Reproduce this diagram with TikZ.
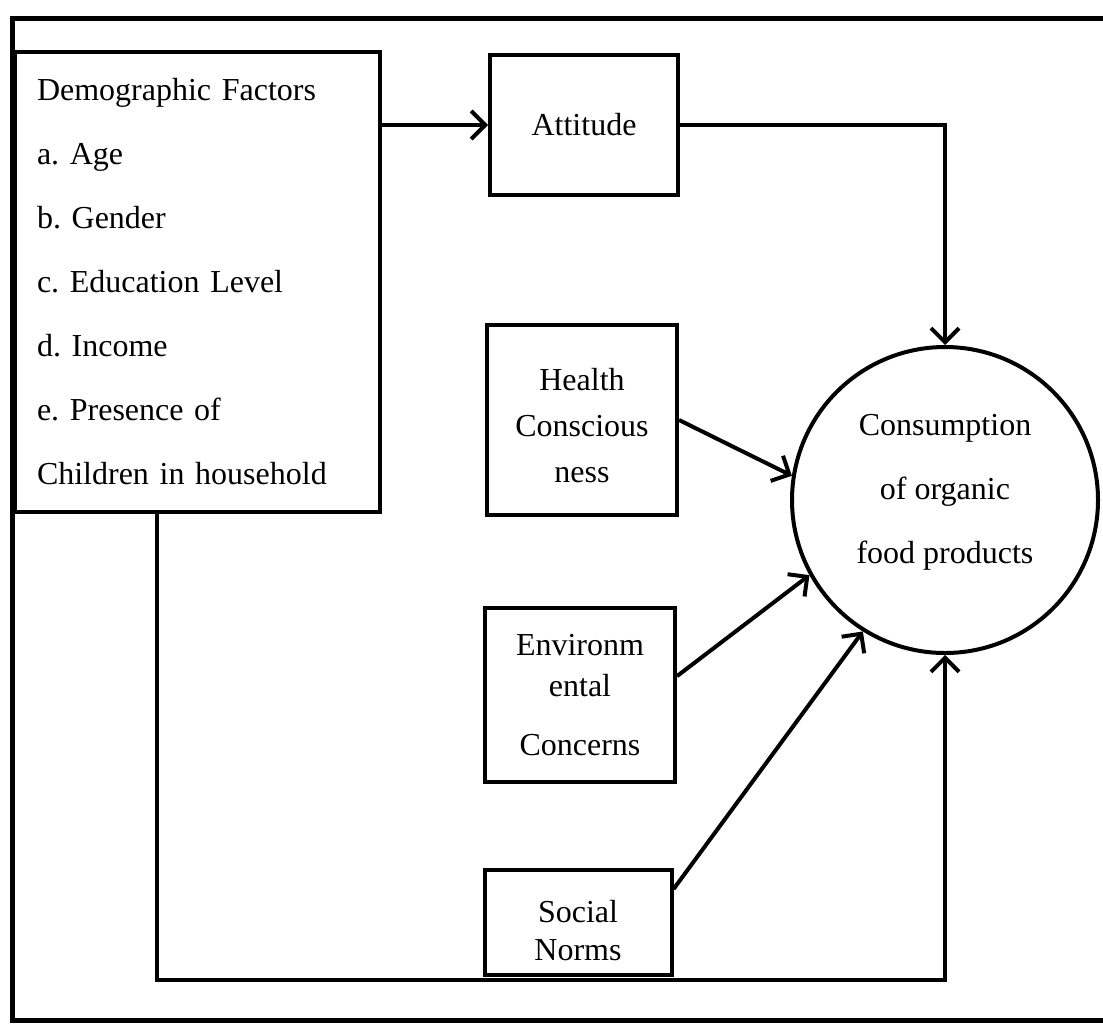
\documentclass[tikz,border=0pt]{standalone}
\usepackage{fontspec}
\setmainfont{Liberation Serif}
\usetikzlibrary{arrows.meta}

\tikzset{
  box/.style={draw, line width=4pt, rectangle, inner sep=0pt, align=center,
    font=\fontsize{32}{46}\selectfont},
  hub/.style={draw, line width=4pt, circle, inner sep=0pt, align=center,
    minimum size=306pt, font=\fontsize{32}{64}\selectfont},
  arr/.style={line width=4pt, -{Straight Barb[length=14pt,width=28pt,line width=4pt]}},
  frame/.style={line width=5pt}
}

\begin{document}
\frenchspacing
\begin{tikzpicture}[x=1pt,y=-1pt]
\useasboundingbox (0,0) rectangle (1103,1026);

% outer frame, right side runs off the page
\draw[frame] (1120,18) -- (12,18) -- (12,1020) -- (1120,1020);

% demographic factors list
\node[box, minimum width=365pt, minimum height=460pt, text width=321pt,
      align=left, font=\fontsize{32}{64}\selectfont] (demo) at (197.5,282)
  {Demographic Factors\\
   a. Age\\
   b. Gender\\
   c. Education Level\\
   d. Income\\
   e. Presence of\\
   Children in household};

% predictor boxes
\node[box, minimum width=188pt, minimum height=140pt] (att) at (584,125)
  {Attitude};
\node[box, minimum width=190pt, minimum height=190pt] (health) at (582,420)
  {\rule{0pt}{34pt}Health\\Conscious\\ness};
\node[box, minimum width=190pt, minimum height=174pt,
      font=\fontsize{32}{41}\selectfont] (env) at (580,695)
  {Environm\\ental\\[18pt]Concerns};
\node[box, minimum width=187pt, minimum height=105pt,
      font=\fontsize{32}{38}\selectfont] (social) at (578,922)
  {\rule{0pt}{40pt}Social\\Norms};

% outcome
\node[hub] (cons) at (945,500)
  {Consumption\\of organic\\food products\rule[-23pt]{0pt}{1pt}};

% connectors
\coordinate (bl) at (157,980);
\draw[arr] (att.west -| demo.east) -- (att.west);
\draw[arr] (att.east) -| (cons.north);
\draw[arr] (health.east) -- (cons.171);
\draw[arr] (env.11) -- (cons.209);
\draw[arr] (social.19) -- (cons.238);
\draw[arr] (bl |- demo.south) -- (bl) -| (cons.south);
\end{tikzpicture}
\end{document}
